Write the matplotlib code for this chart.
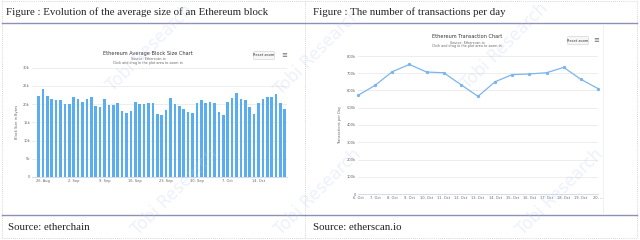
import numpy as np
import matplotlib.pyplot as plt
from matplotlib.lines import Line2D
from matplotlib.patches import FancyBboxPatch

# average block size per day, 25 Aug .. 20 Oct (thousands of bytes)
block_size = [22.3, 24.1, 22.1, 21.4, 21.2, 21.0, 19.9, 20.1, 22.0, 21.5,
              20.6, 21.5, 21.9, 19.4, 19.1, 21.3, 19.7, 19.7, 20.2, 18.0,
              17.7, 18.1, 20.6, 19.9, 20.0, 20.2, 20.3, 17.3, 17.0, 18.4,
              21.8, 20.1, 19.4, 18.8, 17.9, 17.6, 20.4, 21.1, 20.4, 20.5,
              20.3, 17.8, 17.0, 20.7, 21.6, 23.1, 21.4, 21.1, 19.1, 17.4,
              20.2, 21.4, 21.9, 21.9, 22.8, 20.2, 18.6]
block_tick_days = [1, 8, 15, 22, 29, 36, 43, 50]
block_tick_labels = ["26. Aug", "2. Sep", "9. Sep", "16. Sep",
                     "23. Sep", "30. Sep", "7. Oct", "14. Oct"]
block_y_ticks = [0, 5, 10, 15, 20, 25, 30]
block_y_labels = ["0", "5k", "10k", "15k", "20k", "25k", "30k"]

# transactions per day, 6 Oct .. 20 Oct (thousands)
tx_days = ["6. Oct", "7. Oct", "8. Oct", "9. Oct", "10. Oct", "11. Oct",
           "12. Oct", "13. Oct", "14. Oct", "15. Oct", "16. Oct", "17. Oct",
           "18. Oct", "19. Oct", "20. ..."]
tx_per_day = [572, 630, 709, 751, 707, 703, 634, 566, 651, 692, 696, 703,
              734, 665, 611]
tx_y_ticks = [0, 100, 200, 300, 400, 500, 600, 700, 800]
tx_y_labels = ["0", "100k", "200k", "300k", "400k", "500k", "600k", "700k", "800k"]

W, H = 640, 240


def fx(px):
    return px / W


def fy(py):
    return 1 - py / H


def hline(fig, y, x0, x1, **kw):
    fig.add_artist(Line2D([fx(x0), fx(x1)], [fy(y), fy(y)], zorder=3, **kw))


def vline(fig, x, y0, y1, **kw):
    fig.add_artist(Line2D([fx(x), fx(x)], [fy(y0), fy(y1)], zorder=3, **kw))


def style_axes(ax, ymax):
    for s in ["top", "right", "left"]:
        ax.spines[s].set_visible(False)
    ax.spines["bottom"].set_color("#ccd6eb")
    ax.spines["bottom"].set_linewidth(0.6)
    ax.set_ylim(0, ymax)
    ax.grid(axis="y", color="#e6e6e6", linewidth=0.5)
    ax.set_axisbelow(True)
    ax.tick_params(axis="both", length=0, labelsize=2.6, colors="#666666", pad=1.5)


def chart_header(fig, cx, ty, title, bx, by, mx):
    fig.text(fx(cx), fy(ty), title, ha="center", va="center", fontsize=3.6, color="#333333")
    fig.text(fx(cx), fy(ty + 5.5), "Source: Etherscan.io", ha="center", va="center",
             fontsize=2.4, color="#666666")
    fig.text(fx(cx), fy(ty + 9.5), "Click and drag in the plot area to zoom in",
             ha="center", va="center", fontsize=2.4, color="#666666")
    btn = FancyBboxPatch((fx(bx), fy(by + 7)), fx(18), 7 / H,
                         boxstyle="round,pad=0.002", transform=fig.transFigure,
                         facecolor="#f7f7f7", edgecolor="#cccccc", linewidth=0.4, zorder=2)
    fig.add_artist(btn)
    fig.text(fx(bx + 9), fy(by + 3.5), "Reset zoom", ha="center", va="center",
             fontsize=2.6, color="#333333")
    fig.text(fx(mx), fy(by + 3.5), "\u2261", ha="center", va="center",
             fontsize=5, color="#666666")


fig = plt.figure(figsize=(6.4, 2.4), dpi=100)
fig.patch.set_facecolor("white")

# table borders
dash = dict(color="#c8c8c8", linewidth=0.6, linestyle=(0, (1, 1.5)))
hline(fig, 1, 2, 637, **dash)
hline(fig, 238, 2, 637, **dash)
vline(fig, 2, 1, 238, **dash)
vline(fig, 637, 1, 238, **dash)
vline(fig, 305, 1, 238, **dash)
hline(fig, 23, 2, 637, color="#8f8fb8", linewidth=1.0)
hline(fig, 215, 2, 637, color="#8f8fb8", linewidth=1.0)

serif = ["Liberation Serif", "DejaVu Serif"]
fig.text(fx(6), fy(12), "Figure : Evolution of the average size of an Ethereum block",
         family=serif, fontsize=7.8, va="center", color="#222222")
fig.text(fx(313), fy(12), "Figure : The number of transactions per day",
         family=serif, fontsize=7.8, va="center", color="#222222")
fig.text(fx(8), fy(228), "Source: etherchain", family=serif, fontsize=7.8,
         va="center", color="#222222")
fig.text(fx(313), fy(228), "Source: etherscan.io", family=serif, fontsize=7.8,
         va="center", color="#222222")

# image edge of right screenshot
vline(fig, 603, 24, 214, color="#eeeeee", linewidth=0.6)

# left chart: average block size
ax1 = fig.add_axes([fx(32), fy(177), fx(287) - fx(32), fy(67.7) - fy(177)])
days = np.arange(len(block_size))
ax1.bar(days, block_size, width=0.6, color="#5aaef0")
ax1.set_xlim(-1.5, len(block_size) - 0.5)
style_axes(ax1, 30)
ax1.set_yticks(block_y_ticks, block_y_labels)
ax1.set_xticks(block_tick_days, block_tick_labels)
ax1.set_ylabel("Block Size in Bytes", fontsize=2.6, color="#666666", labelpad=3)
chart_header(fig, 148, 53, "Ethereum Average Block Size Chart", 255, 52, 284)

# right chart: transactions per day
ax2 = fig.add_axes([fx(358), fy(194), fx(598) - fx(358), fy(56) - fy(194)])
xi = np.arange(len(tx_per_day))
ax2.plot(xi, tx_per_day, color="#7cb5ec", linewidth=0.9, marker="o", markersize=1.4,
         clip_on=False)
ax2.set_xlim(0, len(tx_per_day) - 1)
style_axes(ax2, 800)
ax2.set_yticks(tx_y_ticks, tx_y_labels)
ax2.set_xticks(xi, tx_days)
ax2.set_ylabel("Transactions per Day", fontsize=2.6, color="#666666", labelpad=3)
chart_header(fig, 467, 37, "Ethereum Transaction Chart", 569, 37, 596)

# faint watermark over everything
for x, y in [(150, 48), (318, 52), (505, 46), (175, 192), (318, 192), (560, 192)]:
    fig.text(fx(x), fy(y), "Tobi Research", rotation=45, ha="center", va="center",
             fontsize=12, color="#b9c9ef", alpha=0.25, zorder=10)

fig.savefig("out.png", dpi=100)
